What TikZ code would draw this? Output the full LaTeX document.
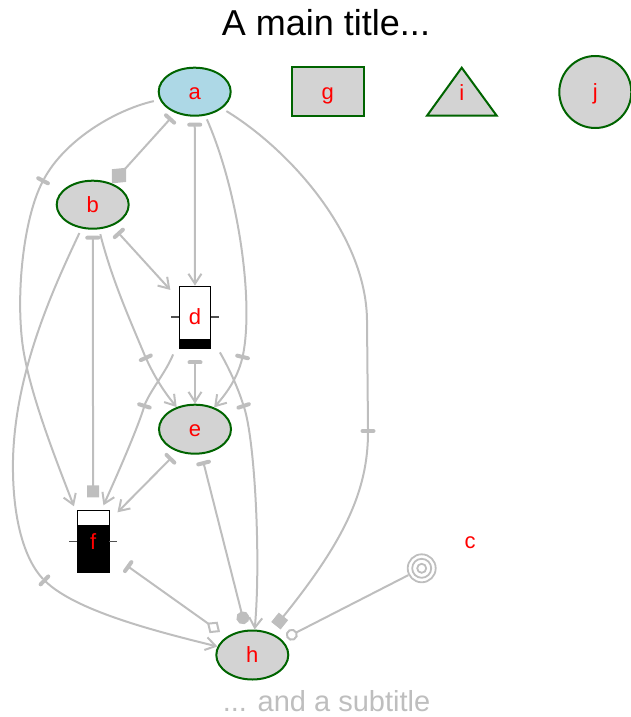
\documentclass[tikz,border=0pt]{standalone}
\usepackage{fontspec}
\setmainfont{Liberation Sans}
\usetikzlibrary{arrows.meta,shapes.geometric}
\definecolor{edgegray}{HTML}{BEBEBE}
\definecolor{dkgreen}{HTML}{006400}
\definecolor{lgray}{HTML}{D3D3D3}
\definecolor{lblue}{HTML}{ADD8E6}
\definecolor{tickgray}{HTML}{505050}
\tikzset{
  TeeT/.tip={Bar[width=11pt,line width=4pt,round]},
  VeeT/.tip={Straight Barb[length=10pt,width=13pt]},
  DiamT/.tip={Diamond[length=21pt,width=19pt]},
  ODiamT/.tip={Diamond[open,length=16pt,width=14pt]},
  SqT/.tip={Square[length=12pt,width=12pt]},
  DotT/.tip={Circle[length=13pt]},
  OCircT/.tip={Circle[open,length=12pt]},
  edge/.style={draw=edgegray, line width=2pt},
  lbl/.style={text=red, font=\fontsize{22}{22}\selectfont, text height=15pt, text depth=0pt, inner sep=0pt},
  gnode/.style={lbl, ellipse, draw=dkgreen, line width=2pt, fill=lgray, minimum width=72pt, minimum height=48pt},
  boxnode/.style={lbl, rectangle, draw=black, line width=0.8pt, minimum width=31pt, minimum height=62pt},
  tickline/.style={draw=tickgray, line width=1.2pt}
}
\begin{document}
\begin{tikzpicture}[x=1pt,y=-1pt]
\useasboundingbox (0,0) rectangle (630,717);
% titles
\node[anchor=base, font=\fontsize{36}{40}\selectfont] (title) at (326,36) {A main title...};
\node[anchor=base, text=edgegray, font=\fontsize{29}{32}\selectfont] (sub) at (326.5,711) {... and a subtitle};
% nodes
\node[gnode, fill=lblue] (a) at (194.7,91.7) {a};
\node[gnode, rectangle, minimum width=72pt, minimum height=49pt] (g) at (327.8,91.8) {g};
\filldraw[fill=lgray, draw=dkgreen, line width=2pt] (427,115.7) -- (461.7,67.7) -- (496.7,115.7) -- cycle;
\node[lbl] (i) at (461.7,93.2) {i};
\node[gnode, circle, minimum size=72pt] (j) at (595.3,92) {j};
\node[gnode] (b) at (92.7,204.7) {b};
\node[gnode, minimum height=49pt] (e) at (195,429.2) {e};
\node[gnode, minimum height=49pt] (h) at (252.3,655) {h};
\node[lbl] (c) at (470,540.8) {c};
% d box
\node[boxnode, fill=white] (d) at (195,317) {d};
\fill[black] (d.south west) rectangle ([yshift=9pt]d.south east);
\draw[tickline] (d.west) -- ++(-8,0);
\draw[tickline] (d.east) -- ++(8,0);
% f box
\node[boxnode, fill=black, minimum width=31.7pt] (f) at (93.2,541.7) {f};
\filldraw[fill=white, draw=black, line width=0.8pt] (f.north west) rectangle ([yshift=-15pt]f.north east);
\draw[tickline] (f.west) -- ++(-8,0);
\draw[tickline] (f.east) -- ++(8,0);
% mid-edge join coordinates
\coordinate (m3) at (243,355);
\coordinate (m4) at (44,179);
\coordinate (m7) at (145,356);
\coordinate (m8) at (145,404);
\coordinate (m10) at (243,404);
\coordinate (m14) at (43,579);
\coordinate (m15) at (368,429);
\coordinate (sp) at (421.7,568.3);
% edges
\draw[edge, {TeeT}-{DiamT}, shorten <=6pt] (a) -- (b);
\draw[edge, {TeeT}-{VeeT}, shorten <=6pt] (a) -- (d);
\draw[edge, shorten <=4pt] (a) .. controls (238,190) and (254,300) .. (m3);
\draw[edge, {TeeT}-{VeeT}] (m3) .. controls (237,380) and (225,395) .. (e);
\draw[edge, shorten <=6pt] (a) .. controls (115,110) and (65,140) .. (m4);
\draw[edge, {TeeT}-{VeeT}] (m4) .. controls (25,215) and (16,285) .. (22,340) .. controls (27,385) and (52,450) .. ([shift={(-3,-4)}]f.north west);
\draw[edge, {TeeT}-{SqT}, shorten <=6pt, shorten >=13pt] (b) -- (f);
\draw[edge, {TeeT}-{VeeT}, shorten <=8pt, shorten >=13pt] (b) -- (d);
\draw[edge, shorten <=5pt] (b) .. controls (112,280) and (130,320) .. (m7);
\draw[edge, {TeeT}-{VeeT}] (m7) .. controls (155,378) and (165,393) .. (e);
\draw[edge] ([shift={(-6,6)}]d.south west) .. controls (166,372) and (152,388) .. (m8);
\draw[edge, {TeeT}-{VeeT}] (m8) .. controls (137,430) and (115,480) .. ([shift={(-6,-5)}]f.north east);
\draw[edge, {TeeT}-{VeeT}, shorten <=12pt] (d) -- (e);
\draw[edge] ([shift={(9,4)}]d.south east) .. controls (229,368) and (238,388) .. (m10);
\draw[edge, {TeeT}-{VeeT}] (m10) .. controls (255,440) and (261,560) .. (h);
\draw[edge, {TeeT}-{VeeT}, shorten <=8pt] (e.-128) -- ([shift={(8,2)}]f.north east);
\draw[edge, {TeeT}-{DotT}, shorten <=7pt, shorten >=6pt] (e) -- (h);
\draw[edge, {TeeT}-{ODiamT}, shorten <=21pt, shorten >=8pt] (f) -- (h);
\draw[edge, shorten <=5pt] (b) .. controls (55,285) and (15,370) .. (13,460) .. controls (12,520) and (25,560) .. (m14);
\draw[edge, {TeeT}-{VeeT}] (m14) .. controls (75,610) and (150,630) .. (h);
\draw[edge, shorten <=5pt] (a) .. controls (290,150) and (366,235) .. (367,320) -- (m15);
\draw[edge, {TeeT}-{SqT}, shorten >=9pt] (m15) .. controls (368,490) and (345,540) .. (h);
\draw[edge, -{OCircT}, shorten <=15pt, shorten >=5pt] (sp) -- (h);
\draw[edge, line width=1.8pt] (sp) circle (14pt) (sp) circle (9.5pt) (sp) circle (4.5pt);
\end{tikzpicture}
\end{document}
